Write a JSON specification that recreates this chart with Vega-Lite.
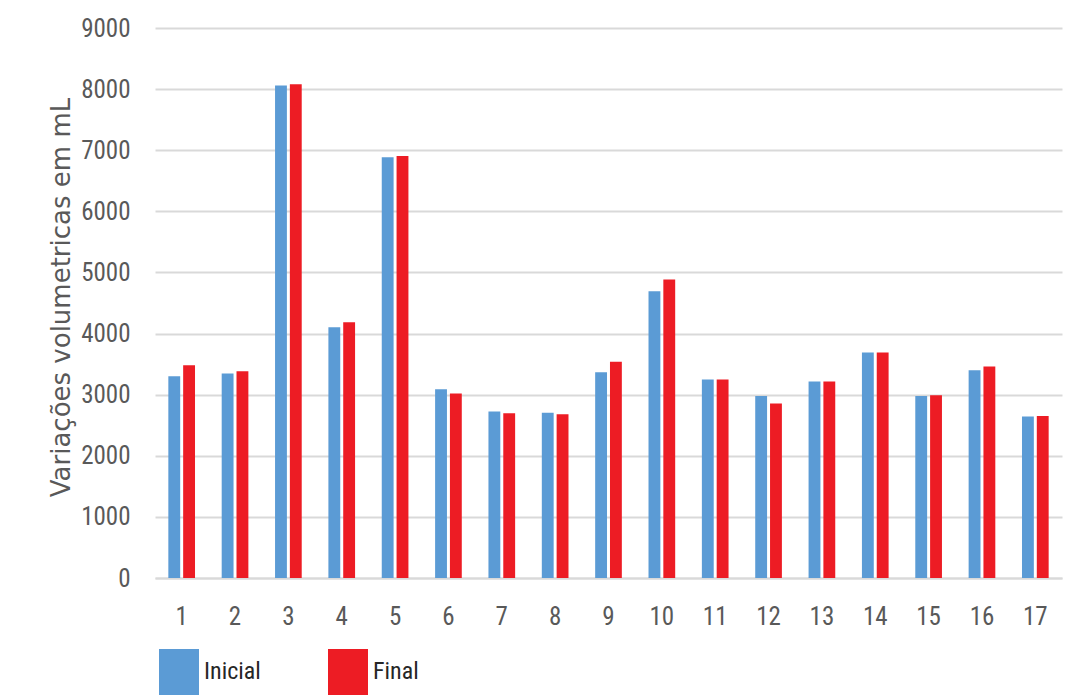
{
  "$schema": "https://vega.github.io/schema/vega-lite/v6.json",
  "width": 907,
  "height": 550,
  "autosize": {"type": "none"},
  "padding": {"left": 155, "top": 28, "right": 20, "bottom": 122},
  "background": "white",
  "data": {
    "values": [
      {"amostra": "1", "serie": "Inicial", "valor": 3300},
      {"amostra": "1", "serie": "Final", "valor": 3482},
      {"amostra": "2", "serie": "Inicial", "valor": 3346},
      {"amostra": "2", "serie": "Final", "valor": 3384},
      {"amostra": "3", "serie": "Inicial", "valor": 8060},
      {"amostra": "3", "serie": "Final", "valor": 8080},
      {"amostra": "4", "serie": "Inicial", "valor": 4105},
      {"amostra": "4", "serie": "Final", "valor": 4185},
      {"amostra": "5", "serie": "Inicial", "valor": 6885},
      {"amostra": "5", "serie": "Final", "valor": 6905},
      {"amostra": "6", "serie": "Inicial", "valor": 3089},
      {"amostra": "6", "serie": "Final", "valor": 3019},
      {"amostra": "7", "serie": "Inicial", "valor": 2725},
      {"amostra": "7", "serie": "Final", "valor": 2695},
      {"amostra": "8", "serie": "Inicial", "valor": 2705},
      {"amostra": "8", "serie": "Final", "valor": 2680},
      {"amostra": "9", "serie": "Inicial", "valor": 3368},
      {"amostra": "9", "serie": "Final", "valor": 3537},
      {"amostra": "10", "serie": "Inicial", "valor": 4694},
      {"amostra": "10", "serie": "Final", "valor": 4885},
      {"amostra": "11", "serie": "Inicial", "valor": 3248},
      {"amostra": "11", "serie": "Final", "valor": 3248},
      {"amostra": "12", "serie": "Inicial", "valor": 2980},
      {"amostra": "12", "serie": "Final", "valor": 2855},
      {"amostra": "13", "serie": "Inicial", "valor": 3215},
      {"amostra": "13", "serie": "Final", "valor": 3215},
      {"amostra": "14", "serie": "Inicial", "valor": 3690},
      {"amostra": "14", "serie": "Final", "valor": 3690},
      {"amostra": "15", "serie": "Inicial", "valor": 2980},
      {"amostra": "15", "serie": "Final", "valor": 2991},
      {"amostra": "16", "serie": "Inicial", "valor": 3400},
      {"amostra": "16", "serie": "Final", "valor": 3461},
      {"amostra": "17", "serie": "Inicial", "valor": 2642},
      {"amostra": "17", "serie": "Final", "valor": 2652}
    ]
  },
  "mark": {"type": "bar"},
  "encoding": {
    "x": {
      "field": "amostra",
      "type": "ordinal",
      "sort": null,
      "scale": {"paddingInner": 0.5, "paddingOuter": 0.25},
      "axis": {
        "title": null,
        "labelAngle": 0,
        "domain": true,
        "domainColor": "#d9d9d9",
        "domainWidth": 2,
        "ticks": false,
        "grid": false,
        "labelFont": "Liberation Sans Narrow, Roboto Condensed, Open Sans",
        "labelFontSize": 25,
        "labelColor": "#595959",
        "labelBaseline": "middle",
        "labelPadding": 38
      }
    },
    "xOffset": {
      "field": "serie",
      "type": "nominal",
      "sort": ["Inicial", "Final"],
      "scale": {"paddingInner": 0.2, "paddingOuter": 0}
    },
    "y": {
      "field": "valor",
      "type": "quantitative",
      "scale": {"domain": [0, 9000], "nice": false},
      "axis": {
        "values": [0, 1000, 2000, 3000, 4000, 5000, 6000, 7000, 8000, 9000],
        "format": "d",
        "domain": false,
        "ticks": false,
        "grid": true,
        "gridColor": "#d9d9d9",
        "gridWidth": 2,
        "labelFont": "Liberation Sans Narrow, Roboto Condensed, Open Sans",
        "labelFontSize": 25,
        "labelColor": "#595959",
        "labelPadding": 25,
        "title": "Variações volumetricas em mL",
        "titleFont": "DejaVu Sans",
        "titleFontSize": 26,
        "titleFontWeight": "normal",
        "titleColor": "#595959",
        "titleAngle": -90,
        "titleX": -86,
        "titleY": 269,
        "titleAlign": "center",
        "titleBaseline": "alphabetic"
      }
    },
    "color": {
      "field": "serie",
      "type": "nominal",
      "sort": ["Inicial", "Final"],
      "scale": {"domain": ["Inicial", "Final"], "range": ["#5b9bd5", "#ed1c24"]},
      "legend": {
        "orient": "none",
        "legendX": 4,
        "legendY": 624,
        "direction": "horizontal",
        "title": null,
        "padding": 0,
        "symbolType": "M-1,-1.15H1V1.15H-1Z",
        "symbolSize": 1600,
        "symbolStrokeWidth": 0,
        "symbolOpacity": 1,
        "labelFont": "Liberation Sans Narrow, Roboto Condensed, Open Sans",
        "labelFontSize": 24,
        "labelColor": "#262626",
        "labelOffset": 5,
        "columnPadding": 67
      }
    }
  },
  "config": {"view": {"stroke": null}}
}
